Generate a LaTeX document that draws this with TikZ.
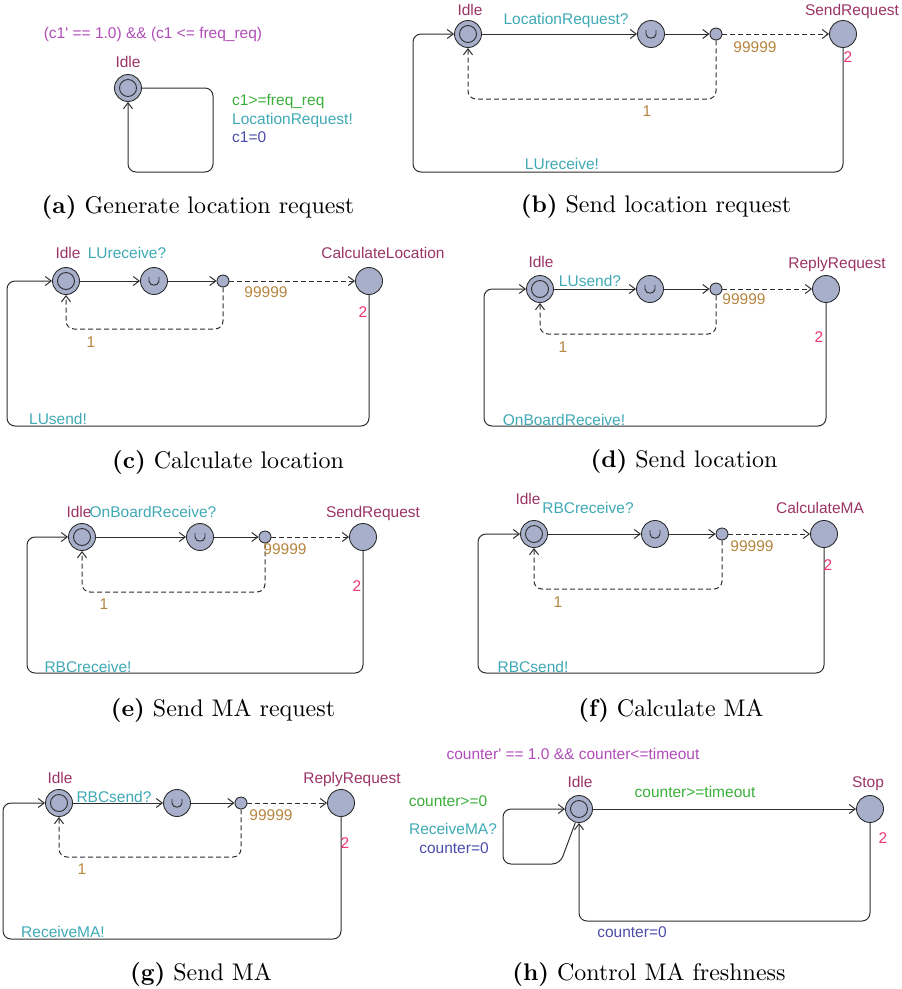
\documentclass[tikz,border=0pt]{standalone}
\usepackage{graphicx}
\usepackage{fontspec}
\setsansfont[Ligatures=TeXOff]{Liberation Sans}
\usetikzlibrary{arrows.meta,calc}
\definecolor{nodefill}{HTML}{A7AFCB}
\definecolor{linec}{HTML}{2E2E2E}
\definecolor{invc}{HTML}{B04CB8}
\definecolor{namec}{HTML}{9A3466}
\definecolor{guardc}{HTML}{3AAE3A}
\definecolor{syncc}{HTML}{3FA9B5}
\definecolor{updc}{HTML}{4B4BAA}
\definecolor{probc}{HTML}{B5853F}
\definecolor{ratec}{HTML}{EE3377}
\newcommand\initmark[1]{\draw[line width=0.9pt,draw=linec] (#1) circle[radius=8.5pt];}
\newcommand\umark[1]{\draw[line width=0.9pt,draw=linec] ($(#1)+(-5,-4)$) -- ($(#1)+(-5,0)$) .. controls ($(#1)+(-5,5.5)$) and ($(#1)+(5,5.5)$) .. ($(#1)+(5,0)$) -- ($(#1)+(5,-4)$);}
\newcommand\capt[1]{\scalebox{2.4}{\fontsize{10}{12}\selectfont #1}}
\begin{document}
\begin{tikzpicture}[x=1pt,y=-1pt,
  loc/.style={circle,draw=linec,fill=nodefill,line width=0.9pt,minimum size=27pt,inner sep=0pt},
  brn/.style={circle,draw=linec,fill=nodefill,line width=0.9pt,minimum size=12pt,inner sep=0pt},
  edge/.style={draw=linec,line width=1pt,rounded corners=8pt,-{Straight Barb[length=6pt,width=9pt]}},
  pedge/.style={edge,dash pattern=on 5pt off 3pt},
  lbl/.style={font=\sffamily\fontsize{15.5}{18}\selectfont,inner sep=0pt,text height=11pt,text depth=0pt},
  lname/.style={lbl,text=namec},
  linv/.style={lbl,text=invc},
  lguard/.style={lbl,text=guardc},
  lsync/.style={lbl,text=syncc},
  lupd/.style={lbl,text=updc},
  lprob/.style={lbl,text=probc},
  lrate/.style={lbl,text=ratec},
  captn/.style={inner sep=0pt,anchor=base}
]
\useasboundingbox (0,0) rectangle (902,989);

% ---------------- (a)
\node[loc] (a-idle) at (128,88) {};
\initmark{a-idle}
\coordinate (a-c) at (213,172);
\draw[edge] (a-idle.east) -| (a-c) -| (a-idle.south);
\node[linv] (a-inv) at (153,33) {(c1' == 1.0) \&\& (c1 <= freq\_req)};
\node[lname] (a-n) at (128,62) {Idle};
\node[lguard,anchor=west] (a-g) at (232,100) {c1>=freq\_req};
\node[lsync,anchor=west] (a-s) at (232,119) {LocationRequest!};
\node[lupd,anchor=west] (a-u) at (232,137) {c1=0};
\node[captn] (a-cap) at (198,213) {\capt{\textbf{(a)} Generate location request}};

% ---------------- (b)
\node[loc] (b-idle) at (468,34) {};
\initmark{b-idle}
\node[loc] (b-com) at (651,34) {};
\umark{b-com}
\node[brn] (b-br) at (716,34) {};
\node[loc] (b-t) at (843,34) {};
\coordinate (b-c) at (413,172);
\coordinate (b-d) at (468,99);
\draw[edge] (b-idle) -- (b-com);
\draw[edge] (b-com) -- (b-br);
\draw[pedge] (b-br) -- (b-t);
\draw[pedge] (b-br.south) |- (b-d) -- (b-idle.south);
\draw[edge] (b-t.south) |- (b-c) |- (b-idle.west);
\node[lname] (b-n1) at (470,10) {Idle};
\node[lname] (b-n2) at (852,10) {SendRequest};
\node[lsync] (b-s) at (566,19) {LocationRequest?};
\node[lprob] (b-p1) at (755,47) {99999};
\node[lprob] (b-p2) at (647,111) {1};
\node[lrate] (b-r) at (848,57) {2};
\node[lsync] (b-s2) at (562,164) {LUreceive!};
\node[captn] (b-cap) at (656,212) {\capt{\textbf{(b)} Send location request}};

% ---------------- (c)
\node[loc] (c-idle) at (66,281) {};
\initmark{c-idle}
\node[loc] (c-com) at (154,281) {};
\umark{c-com}
\node[brn] (c-br) at (223,281) {};
\node[loc] (c-t) at (369,281) {};
\coordinate (c-c) at (7,426);
\coordinate (c-d) at (66,329);
\draw[edge] (c-idle) -- (c-com);
\draw[edge] (c-com) -- (c-br);
\draw[pedge] (c-br) -- (c-t);
\draw[pedge] (c-br.south) |- (c-d) -- (c-idle.south);
\draw[edge] (c-t.south) |- (c-c) |- (c-idle.west);
\node[lname] (c-n1) at (68,253) {Idle};
\node[lsync] (c-s) at (127,253) {LUreceive?};
\node[lname] (c-n2) at (383,253) {CalculateLocation};
\node[lprob] (c-p1) at (266,292) {99999};
\node[lprob] (c-p2) at (91,342) {1};
\node[lrate] (c-r) at (363,312) {2};
\node[lsync] (c-s2) at (58,419) {LUsend!};
\node[captn] (c-cap) at (228,468) {\capt{\textbf{(c)} Calculate location}};

% ---------------- (d)
\node[loc] (d-idle) at (540,289) {};
\initmark{d-idle}
\node[loc] (d-com) at (650,289) {};
\umark{d-com}
\node[brn] (d-br) at (716,289) {};
\node[loc] (d-t) at (826,289) {};
\coordinate (d-c) at (484,426);
\coordinate (d-d) at (540,334);
\draw[edge] (d-idle) -- (d-com);
\draw[edge] (d-com) -- (d-br);
\draw[pedge] (d-br) -- (d-t);
\draw[pedge] (d-br.south) |- (d-d) -- (d-idle.south);
\draw[edge] (d-t.south) |- (d-c) |- (d-idle.west);
\node[lname] (d-n1) at (541,262) {Idle};
\node[lsync] (d-s) at (590,281) {LUsend?};
\node[lname] (d-n2) at (837,263) {ReplyRequest};
\node[lprob] (d-p1) at (744,299) {99999};
\node[lprob] (d-p2) at (563,347) {1};
\node[lrate] (d-r) at (819,337) {2};
\node[lsync] (d-s2) at (564,420) {OnBoardReceive!};
\node[captn] (d-cap) at (684,467) {\capt{\textbf{(d)} Send location}};

% ---------------- (e)
\node[loc] (e-idle) at (82,537) {};
\initmark{e-idle}
\node[loc] (e-com) at (200,537) {};
\umark{e-com}
\node[brn] (e-br) at (265,537) {};
\node[loc] (e-t) at (363,537) {};
\coordinate (e-c) at (27,673);
\coordinate (e-d) at (82,592);
\draw[edge] (e-idle) -- (e-com);
\draw[edge] (e-com) -- (e-br);
\draw[pedge] (e-br) -- (e-t);
\draw[pedge] (e-br.south) |- (e-d) -- (e-idle.south);
\draw[edge] (e-t.south) |- (e-c) |- (e-idle.west);
\node[lname] (e-n1) at (79,512) {Idle};
\node[lsync] (e-s) at (153,512) {OnBoardReceive?};
\node[lname] (e-n2) at (373,512) {SendRequest};
\node[lprob] (e-p1) at (285,549) {99999};
\node[lprob] (e-p2) at (104,604) {1};
\node[lrate] (e-r) at (357,586) {2};
\node[lsync] (e-s2) at (88,667) {RBCreceive!};
\node[captn] (e-cap) at (223,716) {\capt{\textbf{(e)} Send MA request}};

% ---------------- (f)
\node[loc] (f-idle) at (534,534) {};
\initmark{f-idle}
\node[loc] (f-com) at (655,534) {};
\umark{f-com}
\node[brn] (f-br) at (722,534) {};
\node[loc] (f-t) at (824,534) {};
\coordinate (f-c) at (478,673);
\coordinate (f-d) at (534,589);
\draw[edge] (f-idle) -- (f-com);
\draw[edge] (f-com) -- (f-br);
\draw[pedge] (f-br) -- (f-t);
\draw[pedge] (f-br.south) |- (f-d) -- (f-idle.south);
\draw[edge] (f-t.south) |- (f-c) |- (f-idle.west);
\node[lname] (f-n1) at (528,499) {Idle};
\node[lsync] (f-s) at (588,508) {RBCreceive?};
\node[lname] (f-n2) at (820,508) {CalculateMA};
\node[lprob] (f-p1) at (752,546) {99999};
\node[lprob] (f-p2) at (558,602) {1};
\node[lrate] (f-r) at (828,565) {2};
\node[lsync] (f-s2) at (533,667) {RBCsend!};
\node[captn] (f-cap) at (671,716) {\capt{\textbf{(f)} Calculate MA}};

% ---------------- (g)
\node[loc] (g-idle) at (59,803) {};
\initmark{g-idle}
\node[loc] (g-com) at (177,803) {};
\umark{g-com}
\node[brn] (g-br) at (241,803) {};
\node[loc] (g-t) at (341,803) {};
\coordinate (g-c) at (3,939);
\coordinate (g-d) at (59,857);
\draw[edge] (g-idle) -- (g-com);
\draw[edge] (g-com) -- (g-br);
\draw[pedge] (g-br) -- (g-t);
\draw[pedge] (g-br.south) |- (g-d) -- (g-idle.south);
\draw[edge] (g-t.south) |- (g-c) |- (g-idle.west);
\node[lname] (g-n1) at (60,778) {Idle};
\node[lsync] (g-s) at (114,797) {RBCsend?};
\node[lname] (g-n2) at (352,778) {ReplyRequest};
\node[lprob] (g-p1) at (271,815) {99999};
\node[lprob] (g-p2) at (82,869) {1};
\node[lrate] (g-r) at (345,843) {2};
\node[lsync] (g-s2) at (63,932) {ReceiveMA!};
\node[captn] (g-cap) at (201,980) {\capt{\textbf{(g)} Send MA}};

% ---------------- (h)
\node[loc] (h-idle) at (579,809) {};
\initmark{h-idle}
\node[loc] (h-t) at (870,809) {};
\coordinate (h-c) at (579,921);
\coordinate (h-s1) at (560,864);
\coordinate (h-s2) at (503,864);
\coordinate (h-s3) at (503,809);
\draw[edge] (h-idle) -- (h-t);
\draw[edge] (h-t.south) |- (h-c) -- (h-idle.south);
\draw[edge] (h-idle.255) -- (h-s1) -- (h-s2) -- (h-s3) -- (h-idle.west);
\node[linv] (h-inv) at (573,754) {counter' == 1.0 \&\& counter<=timeout};
\node[lname] (h-n1) at (580,782) {Idle};
\node[lname] (h-n2) at (868,782) {Stop};
\node[lguard] (h-g) at (695,792) {counter>=timeout};
\node[lrate] (h-r) at (883,838) {2};
\node[lupd] (h-u) at (632,932) {counter=0};
\node[lguard] (h-g2) at (448,801) {counter>=0};
\node[lsync] (h-s) at (453,829) {ReceiveMA?};
\node[lupd] (h-u2) at (454,848) {counter=0};
\node[captn] (h-cap) at (649,980) {\capt{\textbf{(h)} Control MA freshness}};
\end{tikzpicture}
\end{document}
